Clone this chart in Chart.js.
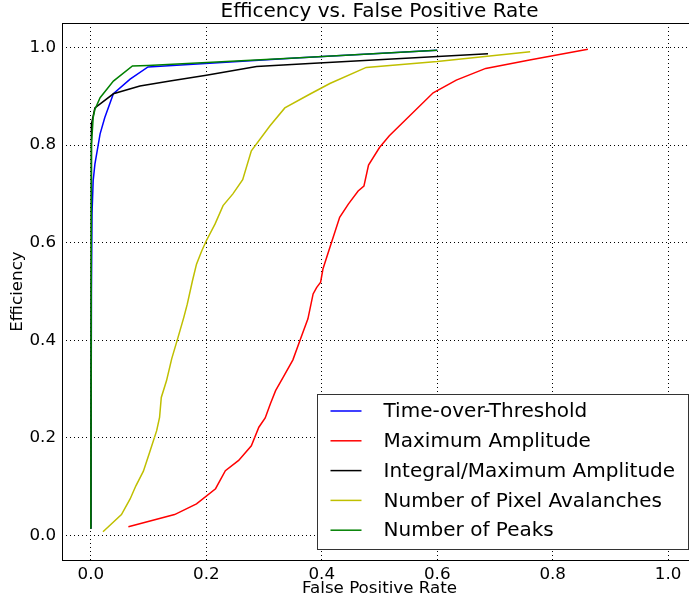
<!DOCTYPE html>
<html>
<head>
<meta charset="utf-8">
<script src="https://cdn.jsdelivr.net/npm/chart.js@4/dist/chart.umd.min.js"></script>
<style>
  html, body { margin: 0; padding: 0; background: #fff; overflow: hidden; }
  canvas { display: block; }
</style>
</head>
<body>
<canvas id="myChart" width="697" height="603"></canvas>
<script>
// ROC curves

var totX = [0, 0.001, 0.002, 0.004, 0.007, 0.016, 0.024, 0.039, 0.068, 0.099, 0.362, 0.6];
var totY = [0.014, 0.5, 0.66, 0.727, 0.761, 0.823, 0.856, 0.905, 0.935, 0.960, 0.979, 0.994];

var maxAmpX = [0.065, 0.145, 0.183, 0.216, 0.233, 0.256, 0.278, 0.291, 0.302, 0.311, 0.320, 0.333, 0.350, 0.362,
               0.376, 0.385, 0.391, 0.398, 0.402, 0.414, 0.431, 0.446, 0.463, 0.473, 0.481, 0.500, 0.517, 0.593,
               0.633, 0.684, 0.760, 0.861];
var maxAmpY = [0.018, 0.043, 0.065, 0.096, 0.133, 0.154, 0.184, 0.222, 0.241, 0.270, 0.297, 0.324, 0.360, 0.399,
               0.444, 0.495, 0.508, 0.519, 0.546, 0.590, 0.652, 0.679, 0.706, 0.716, 0.759, 0.795, 0.819, 0.907,
               0.933, 0.957, 0.974, 0.996];

var intMaxX = [0, 0.001, 0.007, 0.039, 0.085, 0.137, 0.2, 0.287, 0.379, 0.688];
var intMaxY = [0.014, 0.843, 0.876, 0.905, 0.921, 0.931, 0.943, 0.961, 0.967, 0.987];

var avalX = [0.021, 0.053, 0.068, 0.078, 0.091, 0.102, 0.114, 0.119, 0.122, 0.131, 0.140, 0.151, 0.161, 0.167,
             0.176, 0.183, 0.192, 0.200, 0.215, 0.229, 0.246, 0.263, 0.278, 0.310, 0.336, 0.379, 0.414, 0.477,
             0.600, 0.761];
var avalY = [0.008, 0.043, 0.075, 0.102, 0.132, 0.171, 0.215, 0.242, 0.283, 0.317, 0.362, 0.406, 0.447, 0.474,
             0.522, 0.556, 0.583, 0.604, 0.638, 0.676, 0.700, 0.729, 0.788, 0.839, 0.876, 0.904, 0.926, 0.959,
             0.971, 0.991];

var peaksX = [0, 0.001, 0.004, 0.007, 0.016, 0.039, 0.072, 0.099, 0.362, 0.6];
var peaksY = [0.014, 0.8, 0.856, 0.873, 0.897, 0.931, 0.962, 0.963, 0.979, 0.994];

var labels = ['Time-over-Threshold', 'Maximum Amplitude', 'Integral/Maximum Amplitude',
              'Number of Pixel Avalanches', 'Number of Peaks'];
var colors = ['#0000ff', '#ff0000', '#000000', '#bfbf00', '#008000'];

var xTicks = [0, 0.2, 0.4, 0.6, 0.8, 1.0];
var yTicks = [0, 0.2, 0.4, 0.6, 0.8, 1.0];

function pts(xs, ys) {
    var out = [];
    for (var i = 0; i < xs.length; i++) out.push({x: xs[i], y: ys[i]});
    return out;
}

var series = [pts(totX, totY), pts(maxAmpX, maxAmpY), pts(intMaxX, intMaxY), pts(avalX, avalY), pts(peaksX, peaksY)];

var datasets = series.map(function (d, i) {
    return {
        label: labels[i],
        data: d,
        borderColor: colors[i],
        backgroundColor: colors[i],
        borderWidth: 1.5,
        pointRadius: 0,
        tension: 0,
        fill: false,
        order: series.length - i
    };
});

// frame round the axes and the boxed legend in the lower right
var framePlugin = {
    id: 'frameLegend',
    afterDatasetsDraw: function (chart) {
        var ctx = chart.ctx, ca = chart.chartArea;
        ctx.save();
        ctx.strokeStyle = '#000';
        ctx.lineWidth = 1;
        ctx.strokeRect(Math.round(ca.left) + 0.5, Math.round(ca.top) + 0.5,
                       Math.round(ca.right - ca.left), Math.round(ca.bottom - ca.top));

        var bx = Math.round(ca.right - 380) + 0.5, by = Math.round(ca.bottom - 166) + 0.5;
        ctx.fillStyle = '#fff';
        ctx.fillRect(bx, by, 371, 155);
        ctx.strokeStyle = '#333';
        ctx.strokeRect(bx, by, 371, 155);

        ctx.font = '20px "DejaVu Sans"';
        ctx.textBaseline = 'middle';
        ctx.textAlign = 'left';
        chart.data.datasets.forEach(function (ds, i) {
            var ry = by + 16.5 + i * 29.8;
            ctx.strokeStyle = ds.borderColor;
            ctx.lineWidth = 1.5;
            ctx.beginPath();
            ctx.moveTo(bx + 13, ry);
            ctx.lineTo(bx + 44, ry);
            ctx.stroke();
            ctx.fillStyle = '#000';
            ctx.fillText(ds.label, bx + 66, ry + 1);
        });
        ctx.restore();
    }
};

var ctx = document.getElementById('myChart').getContext('2d');
var myChart = new Chart(ctx, {
    type: 'line',
    data: { datasets: datasets },
    plugins: [framePlugin],
    options: {
        responsive: false,
        animation: false,
        devicePixelRatio: 1,
        layout: { padding: { left: 0, right: 0, top: 0, bottom: 0 } },
        plugins: {
            legend: { display: false },
            tooltip: { enabled: false },
            title: {
                display: true,
                text: 'Efficency vs. False Positive Rate',
                fullSize: false,
                color: '#000',
                font: { family: 'DejaVu Sans', size: 20, weight: 'normal', lineHeight: 1.15 },
                padding: { top: 0, bottom: 0 }
            }
        },
        scales: {
            x: {
                type: 'linear',
                min: -0.05,
                max: 1.05,
                afterFit: function (s) { s.height = 43; },
                afterBuildTicks: function (s) { s.ticks = xTicks.map(function (v) { return {value: v}; }); },
                grid: { color: '#000', lineWidth: 1, drawTicks: false },
                border: { display: false, dash: [1, 3] },
                ticks: {
                    color: '#000',
                    padding: 5,
                    maxRotation: 0,
                    font: { family: 'DejaVu Sans', size: 16.7 },
                    callback: function (v) { return v.toFixed(1); }
                },
                title: {
                    display: true,
                    text: 'False Positive Rate',
                    color: '#000',
                    font: { family: 'DejaVu Sans', size: 16.7 },
                    padding: { top: 0, bottom: 4 }
                }
            },
            y: {
                type: 'linear',
                min: -0.05,
                max: 1.05,
                afterFit: function (s) { s.width = 62; },
                afterBuildTicks: function (s) { s.ticks = yTicks.map(function (v) { return {value: v}; }); },
                grid: { color: '#000', lineWidth: 1, drawTicks: false },
                border: { display: false, dash: [1, 3] },
                ticks: {
                    color: '#000',
                    padding: 6,
                    font: { family: 'DejaVu Sans', size: 16.7 },
                    callback: function (v) { return v.toFixed(1); }
                },
                title: {
                    display: true,
                    text: 'Efficiency',
                    color: '#000',
                    font: { family: 'DejaVu Sans', size: 16.7 },
                    padding: { top: 8, bottom: 0 }
                }
            }
        }
    }
});
</script>
</body>
</html>
